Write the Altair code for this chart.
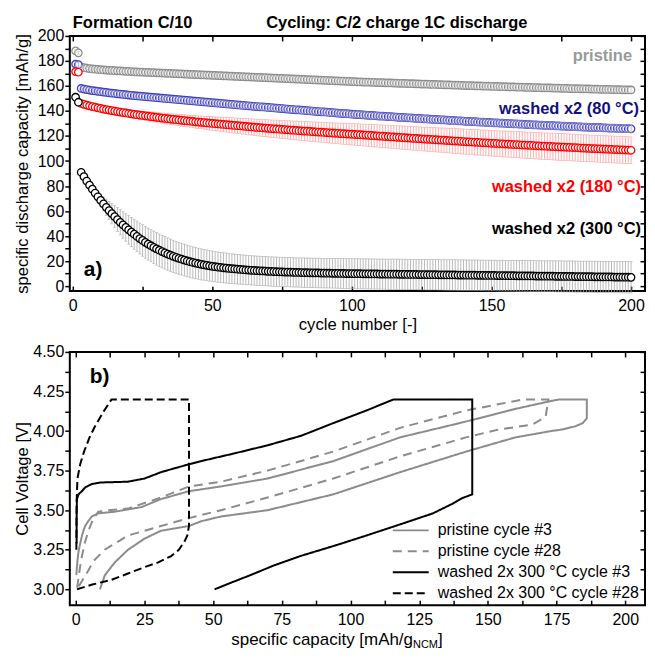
import altair as alt
import pandas as pd

FONT = "Liberation Sans"

# ---------------- panel a) : discharge capacity vs cycle ----------------
SERIES = ["pristine", "washed x2 (80 °C)", "washed x2 (180 °C)", "washed x2 (300 °C)"]
MARKER_COLORS = ["#8c8c8c", "#4040b8", "#ff0000", "#000000"]
ERR_COLORS = ["#c6c6c6", "#9c9ce0", "#ff9c9c", "#a8a8a8"]
LABEL_COLORS = ["#9a9a9a", "#12127a", "#ff0000", "#000000"]

CYCLES = list(range(1, 201))

PRISTINE = [
    188.0, 186.5,
    175.0, 174.6, 174.2, 173.9, 173.6, 173.4, 173.2, 173.0, 172.8, 172.7,
    172.5, 172.4, 172.2, 172.1, 172.0, 171.8, 171.7, 171.6, 171.5, 171.3,
    171.2, 171.1, 171.0, 170.9, 170.8, 170.7, 170.6, 170.5, 170.4, 170.3,
    170.2, 170.1, 170.0, 169.9, 169.8, 169.7, 169.6, 169.5, 169.4, 169.3,
    169.2, 169.1, 169.0, 168.9, 168.8, 168.7, 168.6, 168.5, 168.4, 168.3,
    168.2, 168.1, 168.0, 167.9, 167.8, 167.7, 167.6, 167.5, 167.4, 167.3,
    167.2, 167.1, 167.0, 166.9, 166.8, 166.7, 166.6, 166.5, 166.4, 166.3,
    166.2, 166.1, 166.0, 165.9, 165.8, 165.7, 165.6, 165.5, 165.4, 165.3,
    165.2, 165.1, 165.0, 164.9, 164.8, 164.7, 164.6, 164.5, 164.4, 164.3,
    164.2, 164.1, 164.0, 163.9, 163.8, 163.7, 163.6, 163.5, 163.4, 163.3,
    163.2, 163.1, 163.0, 163.0, 162.9, 162.8, 162.7, 162.7, 162.6, 162.5,
    162.4, 162.4, 162.3, 162.2, 162.1, 162.1, 162.0, 161.9, 161.8, 161.8,
    161.7, 161.6, 161.5, 161.5, 161.4, 161.3, 161.2, 161.2, 161.1, 161.0,
    160.9, 160.9, 160.8, 160.7, 160.6, 160.6, 160.5, 160.4, 160.3, 160.3,
    160.2, 160.1, 160.0, 160.0, 159.9, 159.8, 159.8, 159.7, 159.6, 159.6,
    159.5, 159.4, 159.4, 159.3, 159.2, 159.2, 159.1, 159.0, 159.0, 158.9,
    158.8, 158.8, 158.7, 158.7, 158.6, 158.5, 158.5, 158.4, 158.4, 158.3,
    158.2, 158.2, 158.1, 158.1, 158.0, 157.9, 157.9, 157.8, 157.8, 157.7,
    157.7, 157.6, 157.6, 157.5, 157.4, 157.4, 157.3, 157.3, 157.2, 157.2,
    157.1, 157.1, 157.0, 157.0, 156.9, 156.9, 156.8, 156.8,
]
PRISTINE_ERR = [
    1.2, 1.2,
    1.0, 1.0, 1.0, 1.0, 1.0, 1.1, 1.1, 1.1, 1.1, 1.1,
    1.1, 1.2, 1.2, 1.2, 1.2, 1.2, 1.2, 1.3, 1.3, 1.3,
    1.3, 1.3, 1.3, 1.3, 1.4, 1.4, 1.4, 1.4, 1.4, 1.4,
    1.4, 1.5, 1.5, 1.5, 1.5, 1.5, 1.5, 1.5, 1.5, 1.5,
    1.6, 1.6, 1.6, 1.6, 1.6, 1.6, 1.6, 1.6, 1.6, 1.6,
    1.6, 1.6, 1.6, 1.6, 1.6, 1.6, 1.6, 1.6, 1.6, 1.6,
    1.6, 1.6, 1.6, 1.6, 1.7, 1.7, 1.7, 1.7, 1.7, 1.7,
    1.7, 1.7, 1.7, 1.7, 1.7, 1.7, 1.7, 1.7, 1.7, 1.7,
    1.7, 1.7, 1.7, 1.8, 1.8, 1.8, 1.8, 1.8, 1.8, 1.8,
    1.8, 1.8, 1.8, 1.8, 1.8, 1.8, 1.8, 1.8, 1.8, 1.8,
    1.8, 1.8, 1.8, 1.8, 1.8, 1.8, 1.8, 1.8, 1.8, 1.8,
    1.8, 1.8, 1.9, 1.9, 1.9, 1.9, 1.9, 1.9, 1.9, 1.9,
    1.9, 1.9, 1.9, 1.9, 1.9, 1.9, 1.9, 1.9, 1.9, 1.9,
    1.9, 1.9, 1.9, 1.9, 1.9, 1.9, 1.9, 1.9, 1.9, 1.9,
    1.9, 1.9, 1.9, 2.0, 2.0, 2.0, 2.0, 2.0, 2.0, 2.0,
    2.0, 2.0, 2.0, 2.0, 2.0, 2.0, 2.0, 2.0, 2.0, 2.0,
    2.0, 2.0, 2.0, 2.0, 2.0, 2.0, 2.0, 2.0, 2.0, 2.0,
    2.0, 2.0, 2.0, 2.0, 2.0, 2.0, 2.0, 2.0, 2.0, 2.0,
    2.0, 2.0, 2.0, 2.0, 2.0, 2.0, 2.0, 2.0, 2.0, 2.0,
    2.0, 2.0, 2.0, 2.0, 2.0, 2.0, 2.0, 2.0,
]

WASHED_80 = [
    177.5, 177.0,
    158.0, 157.5, 157.1, 156.7, 156.3, 156.0, 155.7, 155.4, 155.1, 154.8,
    154.5, 154.2, 154.0, 153.7, 153.5, 153.2, 153.0, 152.7, 152.5, 152.2,
    152.0, 151.8, 151.6, 151.4, 151.2, 151.0, 150.8, 150.6, 150.4, 150.2,
    150.0, 149.8, 149.6, 149.4, 149.2, 149.0, 148.8, 148.6, 148.4, 148.2,
    148.0, 147.8, 147.6, 147.4, 147.2, 147.0, 146.8, 146.6, 146.4, 146.2,
    146.0, 145.8, 145.6, 145.4, 145.2, 145.0, 144.8, 144.6, 144.4, 144.2,
    144.1, 143.9, 143.7, 143.5, 143.3, 143.2, 143.0, 142.8, 142.6, 142.4,
    142.2, 142.1, 141.9, 141.7, 141.5, 141.3, 141.1, 140.9, 140.8, 140.6,
    140.4, 140.2, 140.0, 139.9, 139.7, 139.5, 139.3, 139.2, 139.0, 138.8,
    138.6, 138.5, 138.3, 138.1, 137.9, 137.8, 137.6, 137.4, 137.3, 137.1,
    137.0, 136.8, 136.7, 136.5, 136.4, 136.2, 136.1, 135.9, 135.8, 135.6,
    135.5, 135.4, 135.2, 135.1, 134.9, 134.8, 134.7, 134.5, 134.4, 134.2,
    134.1, 134.0, 133.8, 133.7, 133.6, 133.4, 133.3, 133.2, 133.0, 132.9,
    132.8, 132.6, 132.5, 132.4, 132.2, 132.1, 132.0, 131.9, 131.7, 131.6,
    131.5, 131.4, 131.2, 131.1, 131.0, 130.9, 130.8, 130.6, 130.5, 130.4,
    130.3, 130.2, 130.0, 129.9, 129.8, 129.7, 129.6, 129.5, 129.4, 129.2,
    129.1, 129.0, 128.9, 128.8, 128.7, 128.6, 128.5, 128.4, 128.3, 128.2,
    128.1, 128.0, 127.9, 127.8, 127.7, 127.6, 127.5, 127.4, 127.3, 127.2,
    127.1, 127.0, 126.9, 126.8, 126.8, 126.7, 126.6, 126.5, 126.4, 126.3,
    126.2, 126.2, 126.1, 126.0, 125.9, 125.9, 125.8, 125.7,
]
WASHED_80_ERR = [
    2.0, 2.0,
    1.8, 1.8, 1.8, 1.8, 1.8, 1.9, 1.9, 1.9, 1.9, 1.9,
    1.9, 1.9, 2.0, 2.0, 2.0, 2.0, 2.0, 2.0, 2.0, 2.0,
    2.0, 2.1, 2.1, 2.1, 2.1, 2.1, 2.1, 2.1, 2.1, 2.2,
    2.2, 2.2, 2.2, 2.2, 2.2, 2.2, 2.2, 2.2, 2.2, 2.2,
    2.2, 2.2, 2.3, 2.3, 2.3, 2.3, 2.3, 2.3, 2.3, 2.3,
    2.3, 2.4, 2.4, 2.4, 2.4, 2.4, 2.4, 2.4, 2.4, 2.4,
    2.4, 2.4, 2.5, 2.5, 2.5, 2.5, 2.5, 2.5, 2.5, 2.5,
    2.5, 2.5, 2.5, 2.5, 2.5, 2.5, 2.5, 2.5, 2.5, 2.5,
    2.5, 2.5, 2.6, 2.6, 2.6, 2.6, 2.6, 2.6, 2.6, 2.6,
    2.6, 2.6, 2.6, 2.6, 2.6, 2.6, 2.6, 2.6, 2.6, 2.6,
    2.6, 2.6, 2.7, 2.7, 2.7, 2.7, 2.7, 2.7, 2.7, 2.7,
    2.7, 2.7, 2.7, 2.7, 2.7, 2.7, 2.7, 2.7, 2.7, 2.7,
    2.7, 2.7, 2.7, 2.7, 2.7, 2.7, 2.7, 2.7, 2.7, 2.7,
    2.7, 2.7, 2.8, 2.8, 2.8, 2.8, 2.8, 2.8, 2.8, 2.8,
    2.8, 2.8, 2.8, 2.8, 2.8, 2.8, 2.8, 2.8, 2.8, 2.8,
    2.8, 2.8, 2.8, 2.8, 2.8, 2.8, 2.8, 2.8, 2.8, 2.8,
    2.8, 2.9, 2.9, 2.9, 2.9, 2.9, 2.9, 2.9, 2.9, 2.9,
    2.9, 2.9, 2.9, 2.9, 2.9, 2.9, 2.9, 2.9, 2.9, 2.9,
    2.9, 2.9, 2.9, 2.9, 2.9, 2.9, 2.9, 2.9, 2.9, 2.9,
    3.0, 3.0, 3.0, 3.0, 3.0, 3.0, 3.0, 3.0,
]

WASHED_180 = [
    171.5, 171.0,
    146.0, 145.3, 144.7, 144.1, 143.5, 143.0, 142.5, 142.0, 141.5, 141.1,
    140.7, 140.3, 139.9, 139.5, 139.1, 138.7, 138.4, 138.0, 137.7, 137.3,
    137.0, 136.7, 136.4, 136.1, 135.8, 135.5, 135.2, 134.9, 134.6, 134.3,
    134.1, 133.8, 133.5, 133.3, 133.0, 132.8, 132.5, 132.3, 132.0, 131.8,
    131.6, 131.3, 131.1, 130.9, 130.7, 130.4, 130.2, 130.0, 129.8, 129.6,
    129.4, 129.2, 129.0, 128.8, 128.6, 128.4, 128.2, 128.0, 127.8, 127.6,
    127.4, 127.2, 127.0, 126.8, 126.6, 126.4, 126.3, 126.1, 125.9, 125.7,
    125.6, 125.4, 125.2, 125.1, 124.9, 124.7, 124.6, 124.4, 124.2, 124.1,
    123.9, 123.8, 123.6, 123.4, 123.3, 123.1, 123.0, 122.8, 122.7, 122.5,
    122.4, 122.2, 122.1, 121.9, 121.8, 121.6, 121.5, 121.4, 121.2, 121.1,
    121.0, 120.8, 120.7, 120.5, 120.4, 120.2, 120.1, 119.9, 119.8, 119.6,
    119.5, 119.3, 119.2, 119.0, 118.9, 118.7, 118.6, 118.4, 118.3, 118.1,
    118.0, 117.8, 117.7, 117.5, 117.4, 117.3, 117.1, 117.0, 116.8, 116.7,
    116.6, 116.4, 116.3, 116.1, 116.0, 115.9, 115.7, 115.6, 115.4, 115.3,
    115.2, 115.0, 114.9, 114.8, 114.6, 114.5, 114.4, 114.2, 114.1, 114.0,
    113.8, 113.7, 113.6, 113.5, 113.3, 113.2, 113.1, 113.0, 112.8, 112.7,
    112.6, 112.5, 112.4, 112.2, 112.1, 112.0, 111.9, 111.8, 111.7, 111.5,
    111.4, 111.3, 111.2, 111.1, 111.0, 110.9, 110.8, 110.7, 110.6, 110.4,
    110.3, 110.2, 110.1, 110.0, 109.9, 109.8, 109.7, 109.6, 109.5, 109.4,
    109.3, 109.2, 109.1, 109.0, 108.9, 108.8, 108.7, 108.6,
]
WASHED_180_ERR = [
    1.5, 1.5,
    1.5, 1.6, 1.7, 1.8, 1.9, 2.0, 2.1, 2.2, 2.3, 2.4,
    2.5, 2.6, 2.6, 2.7, 2.8, 2.9, 3.0, 3.0, 3.1, 3.2,
    3.3, 3.4, 3.4, 3.5, 3.6, 3.7, 3.8, 3.8, 3.9, 4.0,
    4.1, 4.2, 4.2, 4.3, 4.4, 4.5, 4.6, 4.6, 4.7, 4.8,
    4.9, 5.0, 5.0, 5.1, 5.2, 5.3, 5.4, 5.4, 5.5, 5.6,
    5.7, 5.7, 5.8, 5.9, 6.0, 6.0, 6.1, 6.2, 6.3, 6.3,
    6.4, 6.5, 6.5, 6.6, 6.7, 6.7, 6.8, 6.9, 6.9, 7.0,
    7.1, 7.1, 7.2, 7.2, 7.3, 7.4, 7.4, 7.5, 7.5, 7.6,
    7.7, 7.7, 7.8, 7.8, 7.9, 7.9, 8.0, 8.0, 8.1, 8.1,
    8.2, 8.2, 8.3, 8.3, 8.4, 8.4, 8.5, 8.5, 8.6, 8.6,
    8.7, 8.7, 8.8, 8.8, 8.8, 8.9, 8.9, 9.0, 9.0, 9.0,
    9.1, 9.1, 9.2, 9.2, 9.2, 9.3, 9.3, 9.3, 9.4, 9.4,
    9.4, 9.5, 9.5, 9.5, 9.6, 9.6, 9.6, 9.7, 9.7, 9.7,
    9.8, 9.8, 9.8, 9.9, 9.9, 9.9, 10.0, 10.0, 10.0, 10.0,
    10.1, 10.1, 10.1, 10.1, 10.2, 10.2, 10.2, 10.2, 10.3, 10.3,
    10.3, 10.3, 10.4, 10.4, 10.4, 10.4, 10.4, 10.5, 10.5, 10.5,
    10.5, 10.5, 10.5, 10.6, 10.6, 10.6, 10.6, 10.6, 10.6, 10.6,
    10.7, 10.7, 10.7, 10.7, 10.7, 10.7, 10.7, 10.7, 10.7, 10.7,
    10.7, 10.7, 10.7, 10.7, 10.7, 10.7, 10.7, 10.7, 10.7, 10.7,
    10.7, 10.7, 10.7, 10.7, 10.7, 10.7, 10.7, 10.7,
]

WASHED_300 = [
    151.0, 147.0,
    91.0, 87.5, 84.0, 80.7, 77.5, 74.4, 71.4, 68.5, 65.7, 63.0,
    60.4, 57.9, 55.5, 53.2, 51.0, 48.9, 46.9, 45.0, 43.2, 41.5,
    39.7, 38.0, 36.5, 35.0, 33.6, 32.3, 31.0, 29.8, 28.7, 27.6,
    26.6, 25.6, 24.7, 23.8, 23.0, 22.2, 21.5, 20.8, 20.1, 19.5,
    18.9, 18.4, 17.9, 17.4, 17.0, 16.6, 16.2, 15.8, 15.5, 15.2,
    14.9, 14.6, 14.4, 14.1, 13.9, 13.7, 13.5, 13.3, 13.1, 12.9,
    12.8, 12.6, 12.5, 12.3, 12.2, 12.1, 12.0, 11.8, 11.7, 11.6,
    11.5, 11.4, 11.3, 11.2, 11.2, 11.1, 11.0, 10.9, 10.9, 10.8,
    10.7, 10.7, 10.6, 10.6, 10.5, 10.5, 10.4, 10.4, 10.3, 10.3,
    10.2, 10.2, 10.2, 10.1, 10.1, 10.0, 10.0, 10.0, 9.9, 9.9,
    9.9, 9.8, 9.8, 9.8, 9.7, 9.7, 9.7, 9.6, 9.6, 9.6,
    9.5, 9.5, 9.5, 9.5, 9.4, 9.4, 9.4, 9.3, 9.3, 9.3,
    9.3, 9.2, 9.2, 9.2, 9.1, 9.1, 9.1, 9.1, 9.0, 9.0,
    9.0, 8.9, 8.9, 8.9, 8.9, 8.8, 8.8, 8.8, 8.7, 8.7,
    8.7, 8.7, 8.6, 8.6, 8.6, 8.5, 8.5, 8.5, 8.5, 8.4,
    8.4, 8.4, 8.3, 8.3, 8.3, 8.3, 8.2, 8.2, 8.2, 8.1,
    8.1, 8.1, 8.1, 8.0, 8.0, 8.0, 7.9, 7.9, 7.9, 7.9,
    7.8, 7.8, 7.8, 7.7, 7.7, 7.7, 7.7, 7.6, 7.6, 7.6,
    7.5, 7.5, 7.5, 7.5, 7.4, 7.4, 7.4, 7.3, 7.3, 7.3,
    7.3, 7.2, 7.2, 7.2, 7.1, 7.1, 7.1, 7.0,
]
WASHED_300_ERR = [
    1.0, 3.0,
    1.0, 1.2, 1.5, 2.0, 2.5, 3.2, 4.0, 4.8, 5.6, 6.5,
    7.3, 8.1, 8.8, 9.5, 10.1, 10.6, 11.0, 11.4, 11.7, 12.0,
    12.2, 12.4, 12.6, 12.7, 12.8, 12.9, 13.0, 13.0, 13.0, 13.0,
    13.0, 13.0, 12.9, 12.9, 12.8, 12.8, 12.7, 12.7, 12.6, 12.6,
    12.5, 12.5, 12.4, 12.4, 12.3, 12.3, 12.2, 12.2, 12.1, 12.1,
    12.0, 12.0, 12.0, 11.9, 11.9, 11.9, 11.8, 11.8, 11.8, 11.8,
    11.7, 11.7, 11.7, 11.7, 11.7, 11.7, 11.7, 11.7, 11.7, 11.7,
    11.7, 11.7, 11.7, 11.7, 11.7, 11.7, 11.7, 11.7, 11.7, 11.7,
    11.8, 11.8, 11.8, 11.8, 11.8, 11.8, 11.8, 11.8, 11.8, 11.8,
    11.8, 11.8, 11.9, 11.9, 11.9, 11.9, 12.0, 12.0, 12.0, 12.0,
    12.0, 12.0, 12.0, 12.0, 12.0, 12.0, 12.0, 12.0, 12.0, 12.0,
    12.1, 12.1, 12.1, 12.1, 12.1, 12.1, 12.1, 12.1, 12.1, 12.1,
    12.1, 12.1, 12.1, 12.1, 12.1, 12.1, 12.1, 12.1, 12.1, 12.1,
    12.2, 12.2, 12.2, 12.2, 12.2, 12.2, 12.2, 12.2, 12.2, 12.2,
    12.2, 12.2, 12.2, 12.2, 12.2, 12.2, 12.2, 12.2, 12.2, 12.2,
    12.3, 12.3, 12.3, 12.3, 12.3, 12.3, 12.3, 12.3, 12.3, 12.3,
    12.3, 12.3, 12.3, 12.3, 12.3, 12.3, 12.3, 12.3, 12.3, 12.3,
    12.4, 12.4, 12.4, 12.4, 12.4, 12.4, 12.4, 12.4, 12.4, 12.4,
    12.4, 12.4, 12.4, 12.4, 12.4, 12.4, 12.4, 12.4, 12.4, 12.4,
    12.5, 12.5, 12.5, 12.5, 12.5, 12.5, 12.5, 12.5,
]

XTICKS_A = [0, 25, 50, 75, 100, 125, 150, 175, 200]
YTICKS_A = [0, 10, 20, 30, 40, 50, 60, 70, 80, 90, 100, 110, 120, 130, 140,
            150, 160, 170, 180, 190, 200]

# ---------------- panel b) : voltage profiles ----------------
CURVES = ["pristine cycle #3", "pristine cycle #28",
          "washed 2x 300 °C cycle #3", "washed 2x 300 °C cycle #28"]
CURVE_COLORS = ["#8c8c8c", "#8c8c8c", "#000000", "#000000"]
CURVE_DASH = [[1, 0], [9, 6], [1, 0], [8, 4]]

P3_CAP = [0.2, 0.6, 1.0, 1.6, 2.4, 3.4, 4.5, 5.8, 8.2, 14, 24, 31, 41.2, 52.8,
          69.8, 93.7, 118, 142, 160, 173, 176, 186, 186, 184.5, 181.8, 177,
          173, 160, 142, 118, 93.7, 69.8, 52.8, 45.6, 41.2, 31, 25, 19, 14.2,
          10.6, 8.8]
P3_V = [3.09, 3.18, 3.24, 3.29, 3.35, 3.40, 3.43, 3.46, 3.48, 3.49, 3.52, 3.57,
        3.62, 3.65, 3.70, 3.81, 3.96, 4.06, 4.14, 4.19, 4.20, 4.20, 4.08, 4.05,
        4.03, 4.01, 4.00, 3.96, 3.87, 3.74, 3.60, 3.50, 3.46, 3.43, 3.40, 3.37,
        3.32, 3.25, 3.17, 3.09, 3.00]

P28_CAP = [0.5, 1.2, 2.0, 3.2, 4.6, 6.2, 8.2, 12, 19, 31, 41.2, 52.8, 69.8,
           93.7, 118, 142, 160, 163, 172, 171, 166, 154, 142, 118, 93.7, 69.8,
           52.8, 41.2, 31, 19, 10.5, 6.5, 4.6, 2.5, 0.5]
P28_V = [3.01, 3.10, 3.19, 3.29, 3.37, 3.44, 3.49, 3.50, 3.51, 3.58, 3.65, 3.68,
         3.75, 3.87, 4.02, 4.13, 4.19, 4.20, 4.20, 4.09, 4.04, 4.01, 3.96, 3.84,
         3.70, 3.58, 3.50, 3.45, 3.40, 3.34, 3.25, 3.18, 3.12, 3.06, 3.00]

W3_CAP = [0.3, 0.3, 0.4, 1.0, 2.2, 3.5, 5.8, 9, 19, 25, 31, 36, 41.2, 45.6, 58,
          69.8, 82, 93.7, 105.8, 115.7, 144.3, 144.3, 140.5, 137, 130, 118,
          105.8, 95, 81.7, 72, 63.6, 57, 50.5]
W3_V = [3.29, 3.45, 3.57, 3.60, 3.62, 3.645, 3.665, 3.675, 3.68, 3.70, 3.74,
        3.765, 3.79, 3.81, 3.86, 3.91, 3.97, 4.05, 4.13, 4.20, 4.20, 3.60, 3.575,
        3.54, 3.48, 3.41, 3.34, 3.28, 3.21, 3.15, 3.09, 3.045, 3.00]

W28_CAP = [0.2, 0.3, 0.6, 1.6, 3.0, 5.0, 7.0, 10.0, 13.0, 41.2, 41.2, 40.6, 39.5,
           37.5, 34.7, 30, 25, 19, 13, 6, 0.4]
W28_V = [3.25, 3.55, 3.70, 3.79, 3.87, 3.96, 4.03, 4.12, 4.20, 4.20, 3.40, 3.34,
         3.30, 3.25, 3.21, 3.17, 3.14, 3.10, 3.06, 3.03, 3.00]

XTICKS_B = [0, 12.5, 25, 37.5, 50, 62.5, 75, 87.5, 100, 112.5, 125, 137.5, 150,
            162.5, 175, 187.5, 200]
YTICKS_B = [3.0, 3.125, 3.25, 3.375, 3.5, 3.625, 3.75, 3.875, 4.0, 4.125, 4.25,
            4.375, 4.5]

# ---------------- tables ----------------
rows = []
for name, vals, errs in zip(SERIES,
                            [PRISTINE, WASHED_80, WASHED_180, WASHED_300],
                            [PRISTINE_ERR, WASHED_80_ERR, WASHED_180_ERR, WASHED_300_ERR]):
    assert len(vals) == 200 and len(errs) == 200, name
    for c, v, e in zip(CYCLES, vals, errs):
        rows.append({"series": name, "cycle": c, "cap": v, "lo": v - e, "hi": v + e})
df_a = pd.DataFrame(rows)

rows = []
for name, caps, vs in zip(CURVES, [P3_CAP, P28_CAP, W3_CAP, W28_CAP],
                          [P3_V, P28_V, W3_V, W28_V]):
    assert len(caps) == len(vs), name
    for i, (c, v) in enumerate(zip(caps, vs)):
        rows.append({"curve": name, "i": i, "q": c, "v": v})
df_b = pd.DataFrame(rows)

# ---------------- panel a ----------------
W = 577
H_A = 256
H_B = 254

xs_a = alt.Scale(domain=[-1.07, 205.0], nice=False, zero=False)
ys_a = alt.Scale(domain=[-4, 200], nice=False, zero=False)
marker_scale = alt.Scale(domain=SERIES, range=MARKER_COLORS)
err_scale = alt.Scale(domain=SERIES, range=ERR_COLORS)

ax_a_bottom = alt.Axis(orient="bottom", values=XTICKS_A, offset=-5, tickSize=5,
                       labelPadding=6, labelExpr="datum.value % 50 == 0 ? datum.label : ''",
                       labelFlush=False, labelOverlap=False, title="cycle number [-]",
                       titlePadding=4)
ax_a_left = alt.Axis(orient="left", values=YTICKS_A, tickSize=5, labelPadding=1,
                     labelExpr="datum.value % 20 == 0 ? datum.label : ''",
                     labelOverlap=False, format="d", minExtent=38, maxExtent=38,
                     title="specific discharge capacity [mAh/g]", titlePadding=0)
ax_a_top = alt.Axis(orient="top", values=XTICKS_A, offset=-5, tickSize=5,
                    labels=False, title=None)
ax_a_right = alt.Axis(orient="right", values=YTICKS_A, offset=-5, tickSize=5,
                      labels=False, title=None)

base_a = alt.Chart(df_a)
back = alt.FieldOneOfPredicate(field="series", oneOf=SERIES[2:])
front = alt.FieldOneOfPredicate(field="series", oneOf=SERIES[:2])


def err_layers(pred):
    b = base_a.transform_filter(pred)
    x = alt.X("cycle:Q", scale=xs_a, axis=None)
    col = alt.Color("series:N", scale=err_scale, legend=None)
    rule = b.mark_rule(strokeWidth=0.8).encode(
        x=x, y=alt.Y("lo:Q", scale=ys_a, axis=None), y2="hi:Q", color=col)
    cap_lo = b.mark_tick(orient="horizontal", size=3, thickness=0.8).encode(
        x=x, y=alt.Y("lo:Q", scale=ys_a, axis=None), color=col)
    cap_hi = b.mark_tick(orient="horizontal", size=3, thickness=0.8).encode(
        x=x, y=alt.Y("hi:Q", scale=ys_a, axis=None), color=col)
    return [rule, cap_lo, cap_hi]


points = base_a.mark_point(shape="circle", size=56, strokeWidth=1.3, fill="white",
                           fillOpacity=1, opacity=1).encode(
    x=alt.X("cycle:Q", scale=xs_a, axis=ax_a_bottom),
    y=alt.Y("cap:Q", scale=ys_a, axis=ax_a_left),
    stroke=alt.Stroke("series:N", scale=marker_scale, legend=None),
)

frame_a = base_a.mark_point(opacity=0).encode(
    x=alt.X("cycle:Q", scale=xs_a, axis=ax_a_top),
    y=alt.Y("cap:Q", scale=ys_a, axis=ax_a_right),
)


def note(txt, x, y, size=16.5, weight="bold", color="black", align="left"):
    return alt.Chart(pd.DataFrame({"t": [txt]})).mark_text(
        font=FONT, fontSize=size, fontWeight=weight, color=color, align=align,
        baseline="alphabetic").encode(text="t:N", x=alt.value(x), y=alt.value(y))


notes_a = [
    note("Formation C/10", 3, -8),
    note("Cycling: C/2 charge 1C discharge", 197, -8),
    note(SERIES[0], 564, 25.5, color=LABEL_COLORS[0], align="right"),
    note(SERIES[1], 571, 78, color=LABEL_COLORS[1], align="right"),
    note(SERIES[2], 573, 156.5, color=LABEL_COLORS[2], align="right"),
    note(SERIES[3], 573, 199, color=LABEL_COLORS[3], align="right"),
    note("a)", 14, 241, size=21),
]

chart_a = alt.layer(
    *err_layers(back), points, *err_layers(front), frame_a, *notes_a
).resolve_axis(x="independent", y="independent").properties(width=W, height=H_A)

# ---------------- panel b ----------------
xs_b = alt.Scale(domain=[-2.18, 207.18], nice=False, zero=False)
ys_b = alt.Scale(domain=[2.9, 4.5], nice=False, zero=False)

ax_b_bottom = alt.Axis(orient="bottom", values=XTICKS_B, offset=-5, tickSize=5,
                       labelPadding=6,
                       labelExpr="round(datum.value * 10) % 250 == 0 ? datum.label : ''",
                       labelFlush=False, labelOverlap=False, format="d", title=None)
ax_b_left = alt.Axis(orient="left", values=YTICKS_B, tickSize=5, labelPadding=1,
                     labelExpr="round(datum.value * 1000) % 250 == 0 ? datum.label : ''",
                     labelOverlap=False, format=".2f", minExtent=38, maxExtent=38,
                     title="Cell Voltage [V]", titlePadding=0)
ax_b_top = alt.Axis(orient="top", values=XTICKS_B, offset=-5, tickSize=5,
                    labels=False, title=None)
ax_b_right = alt.Axis(orient="right", values=YTICKS_B, offset=-5, tickSize=5,
                      labels=False, title=None)

legend_b = alt.Legend(title=None, orient="none", legendX=334, legendY=171,
                      symbolType="M-3,0L3,0", symbolSize=144, symbolStrokeWidth=2,
                      labelFont=FONT, labelFontSize=16, labelColor="black",
                      labelOffset=19, labelLimit=0, rowPadding=5, padding=0)

lines = alt.Chart(df_b).mark_line(strokeWidth=2).encode(
    x=alt.X("q:Q", scale=xs_b, axis=ax_b_bottom),
    y=alt.Y("v:Q", scale=ys_b, axis=ax_b_left),
    color=alt.Color("curve:N", scale=alt.Scale(domain=CURVES, range=CURVE_COLORS),
                    legend=legend_b),
    strokeDash=alt.StrokeDash("curve:N", scale=alt.Scale(domain=CURVES, range=CURVE_DASH),
                              legend=legend_b),
    order="i:Q",
)

frame_b = alt.Chart(df_b).mark_point(opacity=0).encode(
    x=alt.X("q:Q", scale=xs_b, axis=ax_b_top),
    y=alt.Y("v:Q", scale=ys_b, axis=ax_b_right),
)

notes_b = [
    note("b)", 20, 31.5, size=21),
    note("specific capacity [mAh/g", 162, 294, size=17, weight="normal"),
    note("NCM", 344.3, 297, size=11, weight="normal"),
    note("]", 369.4, 294, size=17, weight="normal"),
]

chart_b = alt.layer(lines, frame_b, *notes_b).resolve_axis(
    x="independent", y="independent").properties(width=W, height=H_B)

chart = alt.vconcat(chart_a, chart_b, spacing=8).resolve_scale(
    color="independent", stroke="independent", strokeDash="independent"
).resolve_legend(
    color="independent", stroke="independent", strokeDash="independent"
).properties(
    padding={"left": 5, "top": 5, "right": 0, "bottom": 0}
).configure_view(stroke="black", strokeWidth=2).configure_axis(
    grid=False, domain=False, labelFont=FONT, labelFontSize=16, labelColor="black",
    titleFont=FONT, titleFontSize=16.7, titleFontWeight="normal", titleColor="black",
    tickColor="black", tickWidth=1.5,
)

chart.save("out.html", embed_options={"renderer": "svg", "actions": False})
